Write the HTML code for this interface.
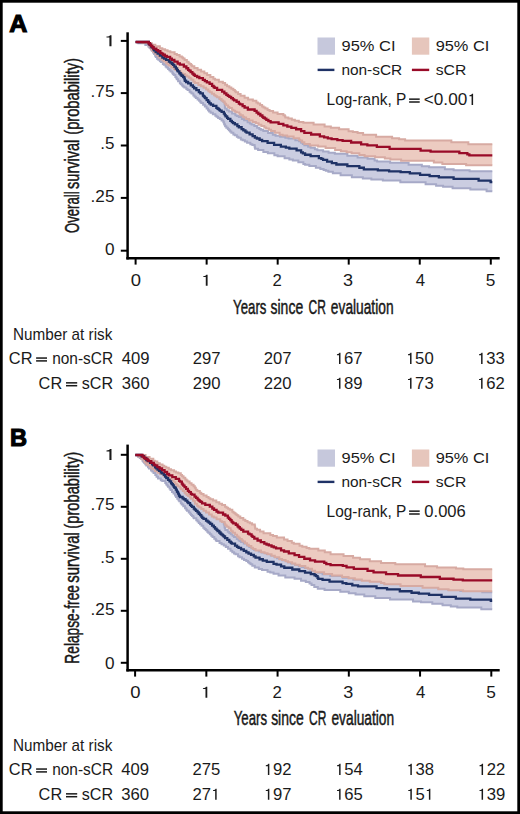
<!DOCTYPE html>
<html><head><meta charset="utf-8"><style>
html,body{margin:0;padding:0;background:#fff;overflow:hidden;width:520px;height:814px;}
svg{display:block;}
text{font-family:"Liberation Sans",sans-serif;fill:#1a1a1a;}
.ti{stroke:#111;stroke-width:0.45px;}
</style></head><body>
<svg width="520" height="814" viewBox="0 0 520 814">
<rect width="520" height="814" fill="#fff"/>
<rect x="1.35" y="1.35" width="517.3" height="811.3" fill="none" stroke="#000" stroke-width="2.7"/>
<polygon points="135.60,42.00 148.60,42.00 148.60,43.34 150.10,43.34 150.10,44.81 152.35,44.81 152.35,46.72 154.10,46.72 154.10,48.08 156.10,48.08 156.10,49.49 158.10,49.49 158.10,51.00 159.35,51.00 159.35,52.02 160.85,52.02 160.85,53.43 162.85,53.43 162.85,54.99 164.85,54.99 164.85,56.74 165.85,56.74 165.85,57.65 167.10,57.65 167.10,58.82 168.35,58.82 168.35,59.73 171.10,59.73 171.10,61.50 173.60,61.50 173.60,63.13 175.10,63.13 175.10,63.98 177.85,63.98 177.85,65.96 180.60,65.96 180.60,67.92 182.60,67.92 182.60,69.50 184.60,69.50 184.60,71.04 185.85,71.04 185.85,72.03 186.85,72.03 186.85,72.85 188.60,72.85 188.60,74.28 189.60,74.28 189.60,75.15 190.60,75.15 190.60,76.18 191.60,76.18 191.60,77.27 192.60,77.27 192.60,78.11 193.85,78.11 193.85,79.46 195.35,79.46 195.35,80.79 197.85,80.79 197.85,82.60 200.10,82.60 200.10,84.03 202.35,84.03 202.35,85.59 204.35,85.59 204.35,86.99 206.35,86.99 206.35,88.59 208.10,88.59 208.10,89.94 209.60,89.94 209.60,91.07 212.35,91.07 212.35,93.07 215.10,93.07 215.10,95.06 217.35,95.06 217.35,96.87 219.35,96.87 219.35,98.52 220.85,98.52 220.85,99.70 222.35,99.70 222.35,100.78 223.60,100.78 223.60,101.92 224.60,101.92 224.60,102.81 224.60,103.69 224.85,103.69 224.85,105.41 224.85,107.13 225.10,107.13 225.10,108.41 226.85,108.41 226.85,110.23 228.85,110.23 228.85,111.49 232.10,111.49 232.10,113.44 235.35,113.44 235.35,115.26 236.85,115.26 236.85,116.06 238.85,116.06 238.85,117.11 241.85,117.11 241.85,119.00 244.10,119.00 244.10,120.36 247.60,120.36 247.60,122.34 249.85,122.34 249.85,123.62 251.60,123.62 251.60,124.51 254.35,124.51 254.35,126.06 257.10,126.06 257.10,127.80 259.35,127.80 259.35,128.92 260.85,128.92 260.85,129.82 263.35,129.82 263.35,131.02 268.10,131.02 268.10,132.98 272.85,132.98 272.85,134.69 275.60,134.69 275.60,135.63 280.10,135.63 280.10,136.73 285.35,136.73 285.35,137.65 288.60,137.65 288.60,138.52 295.35,138.52 295.35,140.28 299.10,140.28 299.10,141.29 301.10,141.29 301.10,142.76 302.85,142.76 302.85,144.10 304.35,144.10 304.35,145.13 308.10,145.13 308.10,146.80 310.60,146.80 310.60,147.76 314.85,147.76 314.85,149.33 317.35,149.33 317.35,150.27 323.10,150.27 323.10,151.58 328.60,151.58 328.60,152.63 334.85,152.63 334.85,153.76 347.35,153.76 347.35,155.72 357.60,155.72 357.60,157.49 367.60,157.49 367.60,158.65 374.60,158.65 374.60,160.51 377.10,160.51 377.10,161.57 390.10,161.57 390.10,162.84 408.60,162.84 408.60,164.67 421.85,164.67 421.85,166.24 429.10,166.24 429.10,167.16 444.85,167.16 444.85,169.14 453.60,169.14 453.60,170.20 469.60,170.20 469.60,171.31 492.30,171.31 492.30,191.14 486.60,191.14 486.60,189.59 470.35,189.59 470.35,188.21 452.60,188.21 452.60,186.78 443.10,186.78 443.10,185.70 436.10,185.70 436.10,184.14 425.60,184.14 425.60,182.34 400.35,182.34 400.35,180.59 382.85,180.59 382.85,179.41 371.35,179.41 371.35,178.58 362.85,178.58 362.85,177.17 351.85,177.17 351.85,175.18 340.60,175.18 340.60,173.19 332.85,173.19 332.85,171.65 328.35,171.65 328.35,170.80 325.85,170.80 325.85,169.99 323.60,169.99 323.60,168.90 320.35,168.90 320.35,167.69 315.85,167.69 315.85,165.97 309.35,165.97 309.35,164.85 305.10,164.85 305.10,164.04 303.35,164.04 303.35,162.14 298.35,162.14 298.35,160.45 292.85,160.45 292.85,159.42 289.35,159.42 289.35,158.18 284.60,158.18 284.60,156.27 277.60,156.27 277.60,155.27 274.35,155.27 274.35,153.32 267.85,153.32 267.85,151.95 263.35,151.95 263.35,150.00 258.10,150.00 258.10,148.63 255.10,148.63 255.10,147.49 254.85,147.49 254.85,146.44 254.60,146.44 254.60,145.09 252.35,145.09 252.35,144.22 250.35,144.22 250.35,142.66 247.10,142.66 247.10,141.45 244.85,141.45 244.85,140.31 242.60,140.31 242.60,139.47 240.85,139.47 240.85,137.83 238.35,137.83 238.35,136.82 236.85,136.82 236.85,135.36 234.85,135.36 234.85,134.44 233.35,134.44 233.35,132.71 231.35,132.71 231.35,131.45 230.10,131.45 230.10,130.13 228.85,130.13 228.85,129.07 227.85,129.07 227.85,127.64 226.35,127.64 226.35,126.33 225.10,126.33 225.10,124.54 224.35,124.54 224.35,123.71 224.10,123.71 224.10,122.31 223.35,122.31 223.35,120.53 221.60,120.53 221.60,119.12 219.85,119.12 219.85,117.88 218.10,117.88 218.10,116.80 216.60,116.80 216.60,115.87 215.35,115.87 215.35,114.26 212.85,114.26 212.85,112.63 210.60,112.63 210.60,111.39 209.10,111.39 209.10,110.17 208.10,110.17 208.10,108.57 206.60,108.57 206.60,106.60 204.85,106.60 204.85,104.64 203.10,104.64 203.10,102.97 201.35,102.97 201.35,102.13 200.35,102.13 200.35,100.87 199.10,100.87 199.10,99.50 197.60,99.50 197.60,97.98 195.85,97.98 195.85,96.68 194.60,96.68 194.60,95.40 193.35,95.40 193.35,93.62 191.60,93.62 191.60,92.61 190.60,92.61 190.60,91.75 189.60,91.75 189.60,90.12 187.60,90.12 187.60,89.12 186.35,89.12 186.35,87.57 184.35,87.57 184.35,86.40 183.10,86.40 183.10,85.44 182.10,85.44 182.10,84.13 180.85,84.13 180.85,83.19 179.85,83.19 179.85,81.26 178.10,81.26 178.10,79.27 176.85,79.27 176.85,78.36 176.35,78.36 176.35,76.95 175.35,76.95 175.35,75.05 174.10,75.05 174.10,74.18 173.10,74.18 173.10,73.36 172.35,73.36 172.35,71.55 170.60,71.55 170.60,70.26 169.35,70.26 169.35,69.06 168.10,69.06 168.10,67.43 166.60,67.43 166.60,66.54 165.60,66.54 165.60,64.76 163.85,64.76 163.85,63.89 162.85,63.89 162.85,62.00 160.85,62.00 160.85,61.01 159.85,61.01 159.85,59.68 158.35,59.68 158.35,58.71 157.10,58.71 157.10,57.11 155.85,57.11 155.85,55.64 155.10,55.64 155.10,54.12 154.10,54.12 154.10,52.49 153.10,52.49 153.10,50.72 151.85,50.72 151.85,49.59 151.10,49.59 151.10,48.34 150.10,48.34 150.10,47.53 149.35,47.53 149.35,46.56 148.35,46.56 148.35,44.96 145.35,44.96 145.35,43.37 138.35,43.37 138.35,42.00 135.60,42.00" fill="#cbcde1"/>
<polyline points="135.60,42.00 148.60,42.00 148.60,43.34 150.10,43.34 150.10,44.81 152.35,44.81 152.35,46.72 154.10,46.72 154.10,48.08 156.10,48.08 156.10,49.49 158.10,49.49 158.10,51.00 159.35,51.00 159.35,52.02 160.85,52.02 160.85,53.43 162.85,53.43 162.85,54.99 164.85,54.99 164.85,56.74 165.85,56.74 165.85,57.65 167.10,57.65 167.10,58.82 168.35,58.82 168.35,59.73 171.10,59.73 171.10,61.50 173.60,61.50 173.60,63.13 175.10,63.13 175.10,63.98 177.85,63.98 177.85,65.96 180.60,65.96 180.60,67.92 182.60,67.92 182.60,69.50 184.60,69.50 184.60,71.04 185.85,71.04 185.85,72.03 186.85,72.03 186.85,72.85 188.60,72.85 188.60,74.28 189.60,74.28 189.60,75.15 190.60,75.15 190.60,76.18 191.60,76.18 191.60,77.27 192.60,77.27 192.60,78.11 193.85,78.11 193.85,79.46 195.35,79.46 195.35,80.79 197.85,80.79 197.85,82.60 200.10,82.60 200.10,84.03 202.35,84.03 202.35,85.59 204.35,85.59 204.35,86.99 206.35,86.99 206.35,88.59 208.10,88.59 208.10,89.94 209.60,89.94 209.60,91.07 212.35,91.07 212.35,93.07 215.10,93.07 215.10,95.06 217.35,95.06 217.35,96.87 219.35,96.87 219.35,98.52 220.85,98.52 220.85,99.70 222.35,99.70 222.35,100.78 223.60,100.78 223.60,101.92 224.60,101.92 224.60,102.81 224.60,103.69 224.85,103.69 224.85,105.41 224.85,107.13 225.10,107.13 225.10,108.41 226.85,108.41 226.85,110.23 228.85,110.23 228.85,111.49 232.10,111.49 232.10,113.44 235.35,113.44 235.35,115.26 236.85,115.26 236.85,116.06 238.85,116.06 238.85,117.11 241.85,117.11 241.85,119.00 244.10,119.00 244.10,120.36 247.60,120.36 247.60,122.34 249.85,122.34 249.85,123.62 251.60,123.62 251.60,124.51 254.35,124.51 254.35,126.06 257.10,126.06 257.10,127.80 259.35,127.80 259.35,128.92 260.85,128.92 260.85,129.82 263.35,129.82 263.35,131.02 268.10,131.02 268.10,132.98 272.85,132.98 272.85,134.69 275.60,134.69 275.60,135.63 280.10,135.63 280.10,136.73 285.35,136.73 285.35,137.65 288.60,137.65 288.60,138.52 295.35,138.52 295.35,140.28 299.10,140.28 299.10,141.29 301.10,141.29 301.10,142.76 302.85,142.76 302.85,144.10 304.35,144.10 304.35,145.13 308.10,145.13 308.10,146.80 310.60,146.80 310.60,147.76 314.85,147.76 314.85,149.33 317.35,149.33 317.35,150.27 323.10,150.27 323.10,151.58 328.60,151.58 328.60,152.63 334.85,152.63 334.85,153.76 347.35,153.76 347.35,155.72 357.60,155.72 357.60,157.49 367.60,157.49 367.60,158.65 374.60,158.65 374.60,160.51 377.10,160.51 377.10,161.57 390.10,161.57 390.10,162.84 408.60,162.84 408.60,164.67 421.85,164.67 421.85,166.24 429.10,166.24 429.10,167.16 444.85,167.16 444.85,169.14 453.60,169.14 453.60,170.20 469.60,170.20 469.60,171.31 492.30,171.31" fill="none" stroke="#a6a9c7" stroke-width="2"/>
<polyline points="135.60,42.00 138.35,42.00 138.35,43.37 145.35,43.37 145.35,44.96 148.35,44.96 148.35,46.56 149.35,46.56 149.35,47.53 150.10,47.53 150.10,48.34 151.10,48.34 151.10,49.59 151.85,49.59 151.85,50.72 153.10,50.72 153.10,52.49 154.10,52.49 154.10,54.12 155.10,54.12 155.10,55.64 155.85,55.64 155.85,57.11 157.10,57.11 157.10,58.71 158.35,58.71 158.35,59.68 159.85,59.68 159.85,61.01 160.85,61.01 160.85,62.00 162.85,62.00 162.85,63.89 163.85,63.89 163.85,64.76 165.60,64.76 165.60,66.54 166.60,66.54 166.60,67.43 168.10,67.43 168.10,69.06 169.35,69.06 169.35,70.26 170.60,70.26 170.60,71.55 172.35,71.55 172.35,73.36 173.10,73.36 173.10,74.18 174.10,74.18 174.10,75.05 175.35,75.05 175.35,76.95 176.35,76.95 176.35,78.36 176.85,78.36 176.85,79.27 178.10,79.27 178.10,81.26 179.85,81.26 179.85,83.19 180.85,83.19 180.85,84.13 182.10,84.13 182.10,85.44 183.10,85.44 183.10,86.40 184.35,86.40 184.35,87.57 186.35,87.57 186.35,89.12 187.60,89.12 187.60,90.12 189.60,90.12 189.60,91.75 190.60,91.75 190.60,92.61 191.60,92.61 191.60,93.62 193.35,93.62 193.35,95.40 194.60,95.40 194.60,96.68 195.85,96.68 195.85,97.98 197.60,97.98 197.60,99.50 199.10,99.50 199.10,100.87 200.35,100.87 200.35,102.13 201.35,102.13 201.35,102.97 203.10,102.97 203.10,104.64 204.85,104.64 204.85,106.60 206.60,106.60 206.60,108.57 208.10,108.57 208.10,110.17 209.10,110.17 209.10,111.39 210.60,111.39 210.60,112.63 212.85,112.63 212.85,114.26 215.35,114.26 215.35,115.87 216.60,115.87 216.60,116.80 218.10,116.80 218.10,117.88 219.85,117.88 219.85,119.12 221.60,119.12 221.60,120.53 223.35,120.53 223.35,122.31 224.10,122.31 224.10,123.71 224.35,123.71 224.35,124.54 225.10,124.54 225.10,126.33 226.35,126.33 226.35,127.64 227.85,127.64 227.85,129.07 228.85,129.07 228.85,130.13 230.10,130.13 230.10,131.45 231.35,131.45 231.35,132.71 233.35,132.71 233.35,134.44 234.85,134.44 234.85,135.36 236.85,135.36 236.85,136.82 238.35,136.82 238.35,137.83 240.85,137.83 240.85,139.47 242.60,139.47 242.60,140.31 244.85,140.31 244.85,141.45 247.10,141.45 247.10,142.66 250.35,142.66 250.35,144.22 252.35,144.22 252.35,145.09 254.60,145.09 254.60,146.44 254.85,146.44 254.85,147.49 255.10,147.49 255.10,148.63 258.10,148.63 258.10,150.00 263.35,150.00 263.35,151.95 267.85,151.95 267.85,153.32 274.35,153.32 274.35,155.27 277.60,155.27 277.60,156.27 284.60,156.27 284.60,158.18 289.35,158.18 289.35,159.42 292.85,159.42 292.85,160.45 298.35,160.45 298.35,162.14 303.35,162.14 303.35,164.04 305.10,164.04 305.10,164.85 309.35,164.85 309.35,165.97 315.85,165.97 315.85,167.69 320.35,167.69 320.35,168.90 323.60,168.90 323.60,169.99 325.85,169.99 325.85,170.80 328.35,170.80 328.35,171.65 332.85,171.65 332.85,173.19 340.60,173.19 340.60,175.18 351.85,175.18 351.85,177.17 362.85,177.17 362.85,178.58 371.35,178.58 371.35,179.41 382.85,179.41 382.85,180.59 400.35,180.59 400.35,182.34 425.60,182.34 425.60,184.14 436.10,184.14 436.10,185.70 443.10,185.70 443.10,186.78 452.60,186.78 452.60,188.21 470.35,188.21 470.35,189.59 486.60,189.59 486.60,191.14 492.30,191.14" fill="none" stroke="#a6a9c7" stroke-width="2"/>
<polygon points="135.60,42.00 148.35,42.00 148.35,43.11 151.60,43.11 151.60,44.73 155.35,44.73 155.35,46.35 159.85,46.35 159.85,48.17 162.35,48.17 162.35,49.20 165.10,49.20 165.10,50.27 167.60,50.27 167.60,51.25 170.35,51.25 170.35,52.32 174.60,52.32 174.60,54.00 176.85,54.00 176.85,54.96 179.60,54.96 179.60,56.39 181.85,56.39 181.85,57.45 183.10,57.45 183.10,58.60 184.60,58.60 184.60,59.92 186.85,59.92 186.85,61.73 188.60,61.73 188.60,63.26 189.60,63.26 189.60,64.07 191.10,64.07 191.10,65.21 192.10,65.21 192.10,66.18 194.35,66.18 194.35,68.03 197.60,68.03 197.60,69.80 201.10,69.80 201.10,71.57 204.35,71.57 204.35,73.36 207.10,73.36 207.10,75.05 210.35,75.05 210.35,76.99 213.35,76.99 213.35,78.74 215.10,78.74 215.10,79.85 218.85,79.85 218.85,81.67 222.85,81.67 222.85,83.06 225.10,83.06 225.10,84.76 227.10,84.76 227.10,86.24 229.35,86.24 229.35,87.55 231.35,87.55 231.35,88.79 233.35,88.79 233.35,90.11 234.85,90.11 234.85,91.28 235.85,91.28 235.85,92.22 238.10,92.22 238.10,94.01 240.60,94.01 240.60,95.77 244.60,95.77 244.60,97.75 248.10,97.75 248.10,99.38 252.85,99.38 252.85,100.84 256.35,100.84 256.35,102.54 257.85,102.54 257.85,103.50 260.10,103.50 260.10,105.11 262.10,105.11 262.10,106.45 263.60,106.45 263.60,107.46 265.35,107.46 265.35,108.50 267.60,108.50 267.60,109.93 269.60,109.93 269.60,111.03 273.10,111.03 273.10,112.38 277.60,112.38 277.60,113.91 283.35,113.91 283.35,115.19 284.85,115.19 284.85,116.14 285.35,116.14 285.35,117.53 288.35,117.53 288.35,118.61 291.85,118.61 291.85,119.70 294.85,119.70 294.85,120.73 298.85,120.73 298.85,121.97 303.35,121.97 303.35,122.86 313.60,122.86 313.60,124.44 324.60,124.44 324.60,126.38 330.85,126.38 330.85,127.65 339.10,127.65 339.10,129.31 348.60,129.31 348.60,131.23 352.85,131.23 352.85,132.09 357.60,132.09 357.60,133.06 363.10,133.06 363.10,134.82 376.10,134.82 376.10,136.63 392.10,136.63 392.10,138.20 399.10,138.20 399.10,139.19 405.10,139.19 405.10,140.48 451.35,140.48 451.35,142.33 468.35,142.33 468.35,144.19 492.30,144.19 492.30,165.26 466.10,165.26 466.10,164.12 442.35,164.12 442.35,162.62 433.85,162.62 433.85,160.64 401.10,160.64 401.10,159.46 390.35,159.46 390.35,158.62 384.85,158.62 384.85,157.36 375.10,157.36 375.10,156.25 364.60,156.25 364.60,154.89 359.35,154.89 359.35,153.33 351.60,153.33 351.60,152.31 346.60,152.31 346.60,151.14 340.85,151.14 340.85,150.03 335.10,150.03 335.10,148.10 325.60,148.10 325.60,146.62 318.10,146.62 318.10,145.40 309.85,145.40 309.85,144.09 304.35,144.09 304.35,142.16 302.10,142.16 302.10,140.51 300.10,140.51 300.10,139.69 299.10,139.69 299.10,138.21 293.60,138.21 293.60,136.56 287.10,136.56 287.10,135.59 282.60,135.59 282.60,134.71 279.60,134.71 279.60,132.78 274.85,132.78 274.85,130.94 271.10,130.94 271.10,129.86 268.85,129.86 268.85,128.49 266.10,128.49 266.10,127.58 264.35,127.58 264.35,126.06 261.35,126.06 261.35,124.74 258.60,124.74 258.60,123.36 255.85,123.36 255.85,122.01 252.60,122.01 252.60,120.57 249.10,120.57 249.10,118.95 246.10,118.95 246.10,117.57 244.10,117.57 244.10,116.66 242.85,116.66 242.85,115.23 240.60,115.23 240.60,114.29 239.35,114.29 239.35,112.60 236.60,112.60 236.60,111.77 235.10,111.77 235.10,110.63 233.35,110.63 233.35,109.72 231.85,109.72 231.85,107.94 229.35,107.94 229.35,107.02 228.10,107.02 228.10,105.62 226.10,105.62 226.10,103.86 224.85,103.86 224.85,102.80 224.60,102.80 224.60,101.46 223.10,101.46 223.10,100.42 221.60,100.42 221.60,99.01 219.60,99.01 219.60,97.16 217.10,97.16 217.10,96.24 215.60,96.24 215.60,95.23 214.10,95.23 214.10,93.67 211.85,93.67 211.85,92.16 209.85,92.16 209.85,91.22 208.35,91.22 208.35,89.60 206.10,89.60 206.10,87.75 203.60,87.75 203.60,86.22 200.85,86.22 200.85,84.90 198.35,84.90 198.35,82.91 194.85,82.91 194.85,81.63 193.35,81.63 193.35,79.65 191.35,79.65 191.35,78.61 190.35,78.61 190.35,77.71 188.85,77.71 188.85,76.50 186.85,76.50 186.85,75.55 185.10,75.55 185.10,73.97 182.35,73.97 182.35,72.97 180.60,72.97 180.60,71.38 178.10,71.38 178.10,69.92 175.60,69.92 175.60,68.94 174.10,68.94 174.10,67.38 171.35,67.38 171.35,65.61 169.10,65.61 169.10,64.50 167.60,64.50 167.60,63.27 166.10,63.27 166.10,61.39 163.85,61.39 163.85,60.32 162.60,60.32 162.60,59.38 161.35,59.38 161.35,57.65 159.35,57.65 159.35,56.37 158.10,56.37 158.10,54.75 156.35,54.75 156.35,53.59 155.10,53.59 155.10,52.00 153.35,52.00 153.35,50.31 152.10,50.31 152.10,49.21 151.35,49.21 151.35,48.08 150.60,48.08 150.60,46.15 149.35,46.15 149.35,44.57 148.10,44.57 148.10,42.93 142.10,42.93 142.10,42.00 135.60,42.00" fill="#eccbc1"/>
<polyline points="135.60,42.00 148.35,42.00 148.35,43.11 151.60,43.11 151.60,44.73 155.35,44.73 155.35,46.35 159.85,46.35 159.85,48.17 162.35,48.17 162.35,49.20 165.10,49.20 165.10,50.27 167.60,50.27 167.60,51.25 170.35,51.25 170.35,52.32 174.60,52.32 174.60,54.00 176.85,54.00 176.85,54.96 179.60,54.96 179.60,56.39 181.85,56.39 181.85,57.45 183.10,57.45 183.10,58.60 184.60,58.60 184.60,59.92 186.85,59.92 186.85,61.73 188.60,61.73 188.60,63.26 189.60,63.26 189.60,64.07 191.10,64.07 191.10,65.21 192.10,65.21 192.10,66.18 194.35,66.18 194.35,68.03 197.60,68.03 197.60,69.80 201.10,69.80 201.10,71.57 204.35,71.57 204.35,73.36 207.10,73.36 207.10,75.05 210.35,75.05 210.35,76.99 213.35,76.99 213.35,78.74 215.10,78.74 215.10,79.85 218.85,79.85 218.85,81.67 222.85,81.67 222.85,83.06 225.10,83.06 225.10,84.76 227.10,84.76 227.10,86.24 229.35,86.24 229.35,87.55 231.35,87.55 231.35,88.79 233.35,88.79 233.35,90.11 234.85,90.11 234.85,91.28 235.85,91.28 235.85,92.22 238.10,92.22 238.10,94.01 240.60,94.01 240.60,95.77 244.60,95.77 244.60,97.75 248.10,97.75 248.10,99.38 252.85,99.38 252.85,100.84 256.35,100.84 256.35,102.54 257.85,102.54 257.85,103.50 260.10,103.50 260.10,105.11 262.10,105.11 262.10,106.45 263.60,106.45 263.60,107.46 265.35,107.46 265.35,108.50 267.60,108.50 267.60,109.93 269.60,109.93 269.60,111.03 273.10,111.03 273.10,112.38 277.60,112.38 277.60,113.91 283.35,113.91 283.35,115.19 284.85,115.19 284.85,116.14 285.35,116.14 285.35,117.53 288.35,117.53 288.35,118.61 291.85,118.61 291.85,119.70 294.85,119.70 294.85,120.73 298.85,120.73 298.85,121.97 303.35,121.97 303.35,122.86 313.60,122.86 313.60,124.44 324.60,124.44 324.60,126.38 330.85,126.38 330.85,127.65 339.10,127.65 339.10,129.31 348.60,129.31 348.60,131.23 352.85,131.23 352.85,132.09 357.60,132.09 357.60,133.06 363.10,133.06 363.10,134.82 376.10,134.82 376.10,136.63 392.10,136.63 392.10,138.20 399.10,138.20 399.10,139.19 405.10,139.19 405.10,140.48 451.35,140.48 451.35,142.33 468.35,142.33 468.35,144.19 492.30,144.19" fill="none" stroke="#d7aaa2" stroke-width="2"/>
<polyline points="135.60,42.00 142.10,42.00 142.10,42.93 148.10,42.93 148.10,44.57 149.35,44.57 149.35,46.15 150.60,46.15 150.60,48.08 151.35,48.08 151.35,49.21 152.10,49.21 152.10,50.31 153.35,50.31 153.35,52.00 155.10,52.00 155.10,53.59 156.35,53.59 156.35,54.75 158.10,54.75 158.10,56.37 159.35,56.37 159.35,57.65 161.35,57.65 161.35,59.38 162.60,59.38 162.60,60.32 163.85,60.32 163.85,61.39 166.10,61.39 166.10,63.27 167.60,63.27 167.60,64.50 169.10,64.50 169.10,65.61 171.35,65.61 171.35,67.38 174.10,67.38 174.10,68.94 175.60,68.94 175.60,69.92 178.10,69.92 178.10,71.38 180.60,71.38 180.60,72.97 182.35,72.97 182.35,73.97 185.10,73.97 185.10,75.55 186.85,75.55 186.85,76.50 188.85,76.50 188.85,77.71 190.35,77.71 190.35,78.61 191.35,78.61 191.35,79.65 193.35,79.65 193.35,81.63 194.85,81.63 194.85,82.91 198.35,82.91 198.35,84.90 200.85,84.90 200.85,86.22 203.60,86.22 203.60,87.75 206.10,87.75 206.10,89.60 208.35,89.60 208.35,91.22 209.85,91.22 209.85,92.16 211.85,92.16 211.85,93.67 214.10,93.67 214.10,95.23 215.60,95.23 215.60,96.24 217.10,96.24 217.10,97.16 219.60,97.16 219.60,99.01 221.60,99.01 221.60,100.42 223.10,100.42 223.10,101.46 224.60,101.46 224.60,102.80 224.85,102.80 224.85,103.86 226.10,103.86 226.10,105.62 228.10,105.62 228.10,107.02 229.35,107.02 229.35,107.94 231.85,107.94 231.85,109.72 233.35,109.72 233.35,110.63 235.10,110.63 235.10,111.77 236.60,111.77 236.60,112.60 239.35,112.60 239.35,114.29 240.60,114.29 240.60,115.23 242.85,115.23 242.85,116.66 244.10,116.66 244.10,117.57 246.10,117.57 246.10,118.95 249.10,118.95 249.10,120.57 252.60,120.57 252.60,122.01 255.85,122.01 255.85,123.36 258.60,123.36 258.60,124.74 261.35,124.74 261.35,126.06 264.35,126.06 264.35,127.58 266.10,127.58 266.10,128.49 268.85,128.49 268.85,129.86 271.10,129.86 271.10,130.94 274.85,130.94 274.85,132.78 279.60,132.78 279.60,134.71 282.60,134.71 282.60,135.59 287.10,135.59 287.10,136.56 293.60,136.56 293.60,138.21 299.10,138.21 299.10,139.69 300.10,139.69 300.10,140.51 302.10,140.51 302.10,142.16 304.35,142.16 304.35,144.09 309.85,144.09 309.85,145.40 318.10,145.40 318.10,146.62 325.60,146.62 325.60,148.10 335.10,148.10 335.10,150.03 340.85,150.03 340.85,151.14 346.60,151.14 346.60,152.31 351.60,152.31 351.60,153.33 359.35,153.33 359.35,154.89 364.60,154.89 364.60,156.25 375.10,156.25 375.10,157.36 384.85,157.36 384.85,158.62 390.35,158.62 390.35,159.46 401.10,159.46 401.10,160.64 433.85,160.64 433.85,162.62 442.35,162.62 442.35,164.12 466.10,164.12 466.10,165.26 492.30,165.26" fill="none" stroke="#d7aaa2" stroke-width="2"/>
<polyline points="135.60,42.00 148.85,42.00 148.85,43.96 149.60,43.96 149.60,44.77 150.85,44.77 150.85,46.46 151.60,46.46 151.60,47.45 153.35,47.45 153.35,49.43 154.10,49.43 154.10,50.25 155.60,50.25 155.60,52.10 157.60,52.10 157.60,53.72 159.85,53.72 159.85,55.55 162.35,55.55 162.35,57.55 164.10,57.55 164.10,58.64 166.10,58.64 166.10,59.84 168.85,59.84 168.85,61.49 170.35,61.49 170.35,62.63 171.85,62.63 171.85,63.75 173.10,63.75 173.10,64.82 174.35,64.82 174.35,66.65 175.85,66.65 175.85,68.50 177.10,68.50 177.10,70.26 177.85,70.26 177.85,71.32 179.35,71.32 179.35,73.23 180.60,73.23 180.60,74.65 181.60,74.65 181.60,75.73 183.10,75.73 183.10,77.07 184.35,77.07 184.35,78.38 184.60,78.38 184.60,79.27 184.85,79.27 184.85,80.75 186.10,80.75 186.10,81.98 188.10,81.98 188.10,83.46 190.85,83.46 190.85,85.38 192.85,85.38 192.85,86.96 194.10,86.96 194.10,88.24 196.35,88.24 196.35,90.08 198.85,90.08 198.85,92.07 200.35,92.07 200.35,93.46 202.85,93.46 202.85,95.39 203.35,95.39 203.35,96.22 204.35,96.22 204.35,97.19 205.10,97.19 205.10,98.19 206.60,98.19 206.60,100.12 208.10,100.12 208.10,101.75 209.35,101.75 209.35,103.41 210.85,103.41 210.85,104.55 213.10,104.55 213.10,105.95 216.35,105.95 216.35,107.81 217.60,107.81 217.60,108.73 218.85,108.73 218.85,109.67 219.85,109.67 219.85,110.53 221.60,110.53 221.60,111.89 223.85,111.89 223.85,113.70 224.85,113.70 224.85,115.16 225.60,115.16 225.60,116.45 227.10,116.45 227.10,117.85 228.10,117.85 228.10,118.86 230.35,118.86 230.35,120.80 231.85,120.80 231.85,122.03 233.10,122.03 233.10,123.11 234.85,123.11 234.85,124.28 237.35,124.28 237.35,126.07 238.85,126.07 238.85,127.25 241.60,127.25 241.60,129.14 243.35,129.14 243.35,130.34 245.35,130.34 245.35,131.67 246.60,131.67 246.60,132.56 249.60,132.56 249.60,134.45 252.60,134.45 252.60,136.21 254.85,136.21 254.85,137.58 256.85,137.58 256.85,138.51 259.60,138.51 259.60,139.90 262.10,139.90 262.10,141.16 267.60,141.16 267.60,142.96 274.10,142.96 274.10,144.88 280.85,144.88 280.85,146.57 285.85,146.57 285.85,147.71 289.35,147.71 289.35,148.56 296.60,148.56 296.60,150.43 301.10,150.43 301.10,152.37 302.85,152.37 302.85,153.36 305.10,153.36 305.10,154.76 310.60,154.76 310.60,156.13 318.85,156.13 318.85,158.11 321.35,158.11 321.35,158.96 323.10,158.96 323.10,159.83 327.10,159.83 327.10,161.64 331.85,161.64 331.85,163.13 336.35,163.13 336.35,164.48 347.35,164.48 347.35,166.22 359.35,166.22 359.35,167.73 363.85,167.73 363.85,169.36 377.85,169.36 377.85,170.47 389.10,170.47 389.10,171.37 400.60,171.37 400.60,172.18 409.85,172.18 409.85,173.38 420.10,173.38 420.10,174.96 429.60,174.96 429.60,176.21 438.85,176.21 438.85,177.43 453.60,177.43 453.60,178.97 478.60,178.97 478.60,180.62 490.60,180.62 490.60,182.13 492.30,182.13" fill="none" stroke="#1f3266" stroke-width="2.3"/>
<polyline points="135.60,42.00 148.60,42.00 148.60,43.23 149.85,43.23 149.85,44.61 151.10,44.61 151.10,45.91 152.35,45.91 152.35,47.25 153.60,47.25 153.60,48.54 156.35,48.54 156.35,50.13 158.10,50.13 158.10,51.24 160.35,51.24 160.35,52.80 161.60,52.80 161.60,53.61 163.10,53.61 163.10,54.77 164.85,54.77 164.85,55.98 166.85,55.98 166.85,56.95 170.10,56.95 170.10,58.64 171.85,58.64 171.85,59.81 174.35,59.81 174.35,61.56 177.60,61.56 177.60,63.51 179.85,63.51 179.85,64.61 183.85,64.61 183.85,66.48 186.35,66.48 186.35,68.25 188.10,68.25 188.10,69.85 189.10,69.85 189.10,70.69 190.60,70.69 190.60,72.03 192.35,72.03 192.35,73.59 193.60,73.59 193.60,74.74 194.85,74.74 194.85,75.81 197.10,75.81 197.10,76.98 199.35,76.98 199.35,78.09 202.85,78.09 202.85,79.84 204.85,79.84 204.85,81.05 206.85,81.05 206.85,82.36 209.60,82.36 209.60,83.93 212.10,83.93 212.10,85.87 213.60,85.87 213.60,87.02 214.60,87.02 214.60,87.88 217.10,87.88 217.10,89.85 222.10,89.85 222.10,91.64 224.35,91.64 224.35,93.39 226.35,93.39 226.35,94.82 227.85,94.82 227.85,95.90 229.35,95.90 229.35,96.89 231.10,96.89 231.10,98.05 232.85,98.05 232.85,99.41 234.10,99.41 234.10,100.28 236.60,100.28 236.60,101.92 238.85,101.92 238.85,103.60 240.10,103.60 240.10,104.41 242.60,104.41 242.60,106.22 244.60,106.22 244.60,107.61 247.85,107.61 247.85,109.52 254.60,109.52 254.60,110.89 256.60,110.89 256.60,112.64 258.35,112.64 258.35,113.99 260.35,113.99 260.35,115.52 262.35,115.52 262.35,116.92 263.35,116.92 263.35,117.75 264.85,117.75 264.85,118.72 266.35,118.72 266.35,119.80 268.35,119.80 268.35,121.09 270.60,121.09 270.60,122.33 278.60,122.33 278.60,123.78 283.35,123.78 283.35,125.37 287.35,125.37 287.35,126.65 291.35,126.65 291.35,127.83 296.10,127.83 296.10,129.25 301.10,129.25 301.10,131.19 304.35,131.19 304.35,132.93 311.10,132.93 311.10,134.51 319.85,134.51 319.85,136.29 324.10,136.29 324.10,137.37 327.85,137.37 327.85,138.29 331.60,138.29 331.60,139.20 337.35,139.20 337.35,140.15 342.60,140.15 342.60,140.96 351.10,140.96 351.10,142.51 361.10,142.51 361.10,144.41 367.35,144.41 367.35,145.35 376.85,145.35 376.85,146.97 389.60,146.97 389.60,148.90 420.60,148.90 420.60,150.62 430.60,150.62 430.60,151.60 459.35,151.60 459.35,153.17 467.35,153.17 467.35,154.28 469.35,154.28 469.35,155.29 492.30,155.29" fill="none" stroke="#990b28" stroke-width="2.3"/>
<polygon points="135.30,455.00 141.55,455.00 141.55,456.00 144.55,456.00 144.55,457.63 147.55,457.63 147.55,459.19 150.30,459.19 150.30,460.56 152.30,460.56 152.30,461.62 155.30,461.62 155.30,463.37 158.05,463.37 158.05,465.14 160.55,465.14 160.55,466.56 162.80,466.56 162.80,467.96 164.30,467.96 164.30,469.05 165.30,469.05 165.30,469.85 166.55,469.85 166.55,471.10 168.30,471.10 168.30,472.60 169.30,472.60 169.30,473.48 171.05,473.48 171.05,475.23 172.05,475.23 172.05,476.31 173.05,476.31 173.05,477.39 173.80,477.39 173.80,478.24 175.80,478.24 175.80,480.24 177.55,480.24 177.55,481.93 179.30,481.93 179.30,483.78 180.80,483.78 180.80,485.32 181.55,485.32 181.55,486.16 182.55,486.16 182.55,487.35 184.05,487.35 184.05,488.75 185.05,488.75 185.05,489.69 187.55,489.69 187.55,491.63 189.05,491.63 189.05,492.87 190.30,492.87 190.30,493.86 192.55,493.86 192.55,495.64 193.80,495.64 193.80,496.59 196.55,496.59 196.55,498.50 198.80,498.50 198.80,499.85 201.30,499.85 201.30,501.31 203.30,501.31 203.30,502.52 205.55,502.52 205.55,503.90 207.30,503.90 207.30,504.93 208.80,504.93 208.80,505.77 211.55,505.77 211.55,507.61 213.05,507.61 213.05,508.69 215.55,508.69 215.55,510.43 217.30,510.43 217.30,511.48 220.05,511.48 220.05,513.44 222.05,513.44 222.05,515.31 222.55,515.31 222.55,517.02 222.80,517.02 222.80,518.73 223.05,518.73 223.05,520.23 223.55,520.23 223.55,521.91 223.80,521.91 223.80,522.85 223.80,523.80 224.30,523.80 224.30,525.17 224.55,525.17 224.55,526.96 224.80,526.96 224.80,528.01 225.30,528.01 225.30,529.91 227.80,529.91 227.80,531.78 229.30,531.78 229.30,533.07 230.80,533.07 230.80,534.31 232.55,534.31 232.55,535.65 234.05,535.65 234.05,536.91 236.80,536.91 236.80,538.91 238.55,538.91 238.55,540.17 239.55,540.17 239.55,541.00 241.05,541.00 241.05,541.91 243.80,541.91 243.80,543.58 247.05,543.58 247.05,545.57 249.30,545.57 249.30,546.96 251.55,546.96 251.55,548.35 254.05,548.35 254.05,549.81 258.80,549.81 258.80,551.51 262.05,551.51 262.05,552.58 266.80,552.58 266.80,554.11 270.80,554.11 270.80,555.58 274.55,555.58 274.55,557.12 277.05,557.12 277.05,558.14 279.55,558.14 279.55,559.14 282.80,559.14 282.80,560.36 287.80,560.36 287.80,562.27 291.05,562.27 291.05,563.49 295.05,563.49 295.05,565.01 298.80,565.01 298.80,566.17 301.80,566.17 301.80,567.10 304.80,567.10 304.80,567.98 309.80,567.98 309.80,569.75 313.05,569.75 313.05,571.49 315.30,571.49 315.30,572.74 322.55,572.74 322.55,574.36 330.30,574.36 330.30,575.97 342.80,575.97 342.80,577.85 353.30,577.85 353.30,579.80 382.80,579.80 382.80,581.08 398.80,581.08 398.80,583.07 413.05,583.07 413.05,585.02 426.05,585.02 426.05,586.53 438.30,586.53 438.30,588.39 448.30,588.39 448.30,589.78 460.30,589.78 460.30,591.03 482.30,591.03 482.30,592.13 492.20,592.13 492.20,609.14 481.30,609.14 481.30,607.51 457.30,607.51 457.30,606.50 450.80,606.50 450.80,605.29 442.55,605.29 442.55,603.73 432.30,603.73 432.30,602.33 421.05,602.33 421.05,601.51 413.05,601.51 413.05,599.58 390.05,599.58 390.05,598.05 375.30,598.05 375.30,596.26 364.30,596.26 364.30,594.52 355.55,594.52 355.55,593.30 348.80,593.30 348.80,591.73 340.30,591.73 340.30,590.05 324.55,590.05 324.55,588.69 317.80,588.69 317.80,586.99 314.30,586.99 314.30,585.00 311.55,585.00 311.55,583.50 309.55,583.50 309.55,582.07 305.80,582.07 305.80,580.67 301.05,580.67 301.05,578.86 294.55,578.86 294.55,577.51 285.30,577.51 285.30,575.60 278.55,575.60 278.55,573.81 273.55,573.81 273.55,572.51 270.30,572.51 270.30,571.65 267.55,571.65 267.55,570.02 262.05,570.02 262.05,568.98 258.80,568.98 258.80,567.40 254.80,567.40 254.80,565.65 252.30,565.65 252.30,564.20 250.55,564.20 250.55,563.36 249.30,563.36 249.30,562.33 248.05,562.33 248.05,561.10 246.30,561.10 246.30,559.91 244.05,559.91 244.05,558.69 242.05,558.69 242.05,557.23 239.55,557.23 239.55,556.23 238.05,556.23 238.05,554.35 235.55,554.35 235.55,553.44 234.05,553.44 234.05,552.16 232.30,552.16 232.30,550.74 230.55,550.74 230.55,548.80 228.05,548.80 228.05,546.88 225.80,546.88 225.80,545.60 223.80,545.60 223.80,544.28 221.55,544.28 221.55,543.05 219.55,543.05 219.55,541.06 216.55,541.06 216.55,540.15 215.80,540.15 215.80,538.72 214.30,538.72 214.30,537.11 212.55,537.11 212.55,535.79 211.30,535.79 211.30,534.34 209.80,534.34 209.80,532.82 208.30,532.82 208.30,531.67 207.30,531.67 207.30,530.17 205.80,530.17 205.80,528.92 204.55,528.92 204.55,527.75 203.30,527.75 203.30,525.85 201.55,525.85 201.55,524.26 200.05,524.26 200.05,522.97 198.80,522.97 198.80,521.55 197.55,521.55 197.55,520.14 196.30,520.14 196.30,518.23 194.05,518.23 194.05,517.39 193.30,517.39 193.30,515.95 192.05,515.95 192.05,515.09 191.05,515.09 191.05,514.07 190.30,514.07 190.30,512.47 188.80,512.47 188.80,510.68 187.05,510.68 187.05,509.71 186.30,509.71 186.30,508.13 185.05,508.13 185.05,506.18 183.30,506.18 183.30,504.44 181.80,504.44 181.80,503.27 180.80,503.27 180.80,501.32 179.30,501.32 179.30,500.21 178.55,500.21 178.55,498.68 177.30,498.68 177.30,497.04 176.05,497.04 176.05,495.56 175.05,495.56 175.05,493.61 173.55,493.61 173.55,491.88 172.05,491.88 172.05,489.95 170.55,489.95 170.55,488.45 169.55,488.45 169.55,486.63 168.05,486.63 168.05,485.60 167.30,485.60 167.30,484.43 166.30,484.43 166.30,482.92 165.30,482.92 165.30,481.07 162.30,481.07 162.30,480.21 160.80,480.21 160.80,478.56 158.05,478.56 158.05,476.65 156.55,476.65 156.55,475.03 155.30,475.03 155.30,473.11 153.55,473.11 153.55,471.59 152.30,471.59 152.30,470.40 151.05,470.40 151.05,468.45 149.05,468.45 149.05,467.37 148.05,467.37 148.05,465.51 146.30,465.51 146.30,464.29 145.30,464.29 145.30,462.71 144.05,462.71 144.05,461.77 143.30,461.77 143.30,460.74 142.55,460.74 142.55,458.75 141.05,458.75 141.05,457.92 139.80,457.92 139.80,456.95 138.30,456.95 138.30,455.00 135.30,455.00" fill="#cbcde1"/>
<polyline points="135.30,455.00 141.55,455.00 141.55,456.00 144.55,456.00 144.55,457.63 147.55,457.63 147.55,459.19 150.30,459.19 150.30,460.56 152.30,460.56 152.30,461.62 155.30,461.62 155.30,463.37 158.05,463.37 158.05,465.14 160.55,465.14 160.55,466.56 162.80,466.56 162.80,467.96 164.30,467.96 164.30,469.05 165.30,469.05 165.30,469.85 166.55,469.85 166.55,471.10 168.30,471.10 168.30,472.60 169.30,472.60 169.30,473.48 171.05,473.48 171.05,475.23 172.05,475.23 172.05,476.31 173.05,476.31 173.05,477.39 173.80,477.39 173.80,478.24 175.80,478.24 175.80,480.24 177.55,480.24 177.55,481.93 179.30,481.93 179.30,483.78 180.80,483.78 180.80,485.32 181.55,485.32 181.55,486.16 182.55,486.16 182.55,487.35 184.05,487.35 184.05,488.75 185.05,488.75 185.05,489.69 187.55,489.69 187.55,491.63 189.05,491.63 189.05,492.87 190.30,492.87 190.30,493.86 192.55,493.86 192.55,495.64 193.80,495.64 193.80,496.59 196.55,496.59 196.55,498.50 198.80,498.50 198.80,499.85 201.30,499.85 201.30,501.31 203.30,501.31 203.30,502.52 205.55,502.52 205.55,503.90 207.30,503.90 207.30,504.93 208.80,504.93 208.80,505.77 211.55,505.77 211.55,507.61 213.05,507.61 213.05,508.69 215.55,508.69 215.55,510.43 217.30,510.43 217.30,511.48 220.05,511.48 220.05,513.44 222.05,513.44 222.05,515.31 222.55,515.31 222.55,517.02 222.80,517.02 222.80,518.73 223.05,518.73 223.05,520.23 223.55,520.23 223.55,521.91 223.80,521.91 223.80,522.85 223.80,523.80 224.30,523.80 224.30,525.17 224.55,525.17 224.55,526.96 224.80,526.96 224.80,528.01 225.30,528.01 225.30,529.91 227.80,529.91 227.80,531.78 229.30,531.78 229.30,533.07 230.80,533.07 230.80,534.31 232.55,534.31 232.55,535.65 234.05,535.65 234.05,536.91 236.80,536.91 236.80,538.91 238.55,538.91 238.55,540.17 239.55,540.17 239.55,541.00 241.05,541.00 241.05,541.91 243.80,541.91 243.80,543.58 247.05,543.58 247.05,545.57 249.30,545.57 249.30,546.96 251.55,546.96 251.55,548.35 254.05,548.35 254.05,549.81 258.80,549.81 258.80,551.51 262.05,551.51 262.05,552.58 266.80,552.58 266.80,554.11 270.80,554.11 270.80,555.58 274.55,555.58 274.55,557.12 277.05,557.12 277.05,558.14 279.55,558.14 279.55,559.14 282.80,559.14 282.80,560.36 287.80,560.36 287.80,562.27 291.05,562.27 291.05,563.49 295.05,563.49 295.05,565.01 298.80,565.01 298.80,566.17 301.80,566.17 301.80,567.10 304.80,567.10 304.80,567.98 309.80,567.98 309.80,569.75 313.05,569.75 313.05,571.49 315.30,571.49 315.30,572.74 322.55,572.74 322.55,574.36 330.30,574.36 330.30,575.97 342.80,575.97 342.80,577.85 353.30,577.85 353.30,579.80 382.80,579.80 382.80,581.08 398.80,581.08 398.80,583.07 413.05,583.07 413.05,585.02 426.05,585.02 426.05,586.53 438.30,586.53 438.30,588.39 448.30,588.39 448.30,589.78 460.30,589.78 460.30,591.03 482.30,591.03 482.30,592.13 492.20,592.13" fill="none" stroke="#a6a9c7" stroke-width="2"/>
<polyline points="135.30,455.00 138.30,455.00 138.30,456.95 139.80,456.95 139.80,457.92 141.05,457.92 141.05,458.75 142.55,458.75 142.55,460.74 143.30,460.74 143.30,461.77 144.05,461.77 144.05,462.71 145.30,462.71 145.30,464.29 146.30,464.29 146.30,465.51 148.05,465.51 148.05,467.37 149.05,467.37 149.05,468.45 151.05,468.45 151.05,470.40 152.30,470.40 152.30,471.59 153.55,471.59 153.55,473.11 155.30,473.11 155.30,475.03 156.55,475.03 156.55,476.65 158.05,476.65 158.05,478.56 160.80,478.56 160.80,480.21 162.30,480.21 162.30,481.07 165.30,481.07 165.30,482.92 166.30,482.92 166.30,484.43 167.30,484.43 167.30,485.60 168.05,485.60 168.05,486.63 169.55,486.63 169.55,488.45 170.55,488.45 170.55,489.95 172.05,489.95 172.05,491.88 173.55,491.88 173.55,493.61 175.05,493.61 175.05,495.56 176.05,495.56 176.05,497.04 177.30,497.04 177.30,498.68 178.55,498.68 178.55,500.21 179.30,500.21 179.30,501.32 180.80,501.32 180.80,503.27 181.80,503.27 181.80,504.44 183.30,504.44 183.30,506.18 185.05,506.18 185.05,508.13 186.30,508.13 186.30,509.71 187.05,509.71 187.05,510.68 188.80,510.68 188.80,512.47 190.30,512.47 190.30,514.07 191.05,514.07 191.05,515.09 192.05,515.09 192.05,515.95 193.30,515.95 193.30,517.39 194.05,517.39 194.05,518.23 196.30,518.23 196.30,520.14 197.55,520.14 197.55,521.55 198.80,521.55 198.80,522.97 200.05,522.97 200.05,524.26 201.55,524.26 201.55,525.85 203.30,525.85 203.30,527.75 204.55,527.75 204.55,528.92 205.80,528.92 205.80,530.17 207.30,530.17 207.30,531.67 208.30,531.67 208.30,532.82 209.80,532.82 209.80,534.34 211.30,534.34 211.30,535.79 212.55,535.79 212.55,537.11 214.30,537.11 214.30,538.72 215.80,538.72 215.80,540.15 216.55,540.15 216.55,541.06 219.55,541.06 219.55,543.05 221.55,543.05 221.55,544.28 223.80,544.28 223.80,545.60 225.80,545.60 225.80,546.88 228.05,546.88 228.05,548.80 230.55,548.80 230.55,550.74 232.30,550.74 232.30,552.16 234.05,552.16 234.05,553.44 235.55,553.44 235.55,554.35 238.05,554.35 238.05,556.23 239.55,556.23 239.55,557.23 242.05,557.23 242.05,558.69 244.05,558.69 244.05,559.91 246.30,559.91 246.30,561.10 248.05,561.10 248.05,562.33 249.30,562.33 249.30,563.36 250.55,563.36 250.55,564.20 252.30,564.20 252.30,565.65 254.80,565.65 254.80,567.40 258.80,567.40 258.80,568.98 262.05,568.98 262.05,570.02 267.55,570.02 267.55,571.65 270.30,571.65 270.30,572.51 273.55,572.51 273.55,573.81 278.55,573.81 278.55,575.60 285.30,575.60 285.30,577.51 294.55,577.51 294.55,578.86 301.05,578.86 301.05,580.67 305.80,580.67 305.80,582.07 309.55,582.07 309.55,583.50 311.55,583.50 311.55,585.00 314.30,585.00 314.30,586.99 317.80,586.99 317.80,588.69 324.55,588.69 324.55,590.05 340.30,590.05 340.30,591.73 348.80,591.73 348.80,593.30 355.55,593.30 355.55,594.52 364.30,594.52 364.30,596.26 375.30,596.26 375.30,598.05 390.05,598.05 390.05,599.58 413.05,599.58 413.05,601.51 421.05,601.51 421.05,602.33 432.30,602.33 432.30,603.73 442.55,603.73 442.55,605.29 450.80,605.29 450.80,606.50 457.30,606.50 457.30,607.51 481.30,607.51 481.30,609.14 492.20,609.14" fill="none" stroke="#a6a9c7" stroke-width="2"/>
<polygon points="135.30,455.00 145.55,455.00 145.55,456.91 149.55,456.91 149.55,458.85 153.30,458.85 153.30,460.72 154.80,460.72 154.80,461.62 157.30,461.62 157.30,463.13 159.80,463.13 159.80,464.44 162.55,464.44 162.55,465.87 164.30,465.87 164.30,466.83 166.30,466.83 166.30,467.86 168.80,467.86 168.80,469.19 171.05,469.19 171.05,470.26 174.05,470.26 174.05,471.61 176.05,471.61 176.05,472.44 178.30,472.44 178.30,473.34 180.80,473.34 180.80,474.99 182.05,474.99 182.05,476.30 183.55,476.30 183.55,477.71 185.30,477.71 185.30,479.39 186.55,479.39 186.55,480.62 187.55,480.62 187.55,481.49 189.55,481.49 189.55,483.23 191.55,483.23 191.55,484.74 193.55,484.74 193.55,486.33 194.80,486.33 194.80,487.87 195.80,487.87 195.80,489.84 197.30,489.84 197.30,491.07 199.80,491.07 199.80,492.79 201.30,492.79 201.30,494.03 203.55,494.03 203.55,495.51 206.55,495.51 206.55,497.11 208.55,497.11 208.55,498.28 210.30,498.28 210.30,499.19 213.05,499.19 213.05,500.56 216.30,500.56 216.30,502.22 219.30,502.22 219.30,503.73 222.05,503.73 222.05,505.06 225.05,505.06 225.05,506.63 226.55,506.63 226.55,507.65 228.05,507.65 228.05,508.67 229.80,508.67 229.80,509.85 232.30,509.85 232.30,511.63 233.55,511.63 233.55,512.67 234.80,512.67 234.80,513.61 235.80,513.61 235.80,514.52 237.05,514.52 237.05,515.37 238.30,515.37 238.30,516.50 240.30,516.50 240.30,517.99 243.30,517.99 243.30,519.77 245.30,519.77 245.30,520.97 247.55,520.97 247.55,522.21 249.80,522.21 249.80,523.36 252.05,523.36 252.05,524.53 254.80,524.53 254.80,526.26 255.05,526.26 255.05,527.72 255.30,527.72 255.30,528.83 257.05,528.83 257.05,529.76 260.05,529.76 260.05,531.50 263.55,531.50 263.55,533.15 270.30,533.15 270.30,534.94 273.05,534.94 273.05,536.03 276.80,536.03 276.80,537.48 284.05,537.48 284.05,539.38 287.55,539.38 287.55,540.89 291.80,540.89 291.80,542.83 293.80,542.83 293.80,543.83 299.55,543.83 299.55,545.80 302.30,545.80 302.30,546.67 306.55,546.67 306.55,547.97 309.30,547.97 309.30,548.79 318.30,548.79 318.30,550.57 324.80,550.57 324.80,552.19 330.55,552.19 330.55,554.16 343.55,554.16 343.55,555.92 353.05,555.92 353.05,557.86 360.05,557.86 360.05,559.31 369.80,559.31 369.80,561.30 381.05,561.30 381.05,562.99 395.30,562.99 395.30,564.21 425.05,564.21 425.05,566.18 437.05,566.18 437.05,567.43 456.05,567.43 456.05,568.46 463.30,568.46 463.30,569.35 492.20,569.35 492.20,591.31 463.05,591.31 463.05,590.19 448.55,590.19 448.55,589.37 438.30,589.37 438.30,587.80 422.55,587.80 422.55,586.04 400.55,586.04 400.55,584.16 384.30,584.16 384.30,582.95 381.05,582.95 381.05,581.80 369.80,581.80 369.80,580.64 361.80,580.64 361.80,579.57 354.80,579.57 354.80,578.30 348.55,578.30 348.55,577.00 342.05,577.00 342.05,575.51 332.05,575.51 332.05,574.07 324.05,574.07 324.05,572.29 315.05,572.29 315.05,570.64 312.05,570.64 312.05,568.65 308.05,568.65 308.05,567.81 305.30,567.81 305.30,566.09 299.80,566.09 299.80,564.75 295.30,564.75 295.30,563.58 292.05,563.58 292.05,562.24 288.05,562.24 288.05,561.37 285.55,561.37 285.55,560.12 282.05,560.12 282.05,559.02 279.30,559.02 279.30,557.17 274.80,557.17 274.80,555.85 271.55,555.85 271.55,554.36 267.55,554.36 267.55,553.34 264.55,553.34 264.55,552.24 261.05,552.24 261.05,550.44 255.55,550.44 255.55,549.08 253.05,549.08 253.05,547.79 251.30,547.79 251.30,546.04 248.80,546.04 248.80,544.77 247.05,544.77 247.05,543.19 245.05,543.19 245.05,541.62 243.05,541.62 243.05,540.51 241.80,540.51 241.80,538.95 239.80,538.95 239.80,537.86 238.55,537.86 238.55,536.42 237.05,536.42 237.05,534.70 235.05,534.70 235.05,532.71 232.80,532.71 232.80,531.30 231.30,531.30 231.30,530.34 230.55,530.34 230.55,528.37 228.55,528.37 228.55,526.77 226.80,526.77 226.80,525.39 225.55,525.39 225.55,524.42 225.05,524.42 225.05,523.44 224.55,523.44 224.55,522.04 222.05,522.04 222.05,521.13 220.30,521.13 220.30,519.22 216.55,519.22 216.55,517.53 213.80,517.53 213.80,516.41 211.80,516.41 211.80,514.58 209.05,514.58 209.05,512.59 206.05,512.59 206.05,510.80 203.55,510.80 203.55,509.05 201.30,509.05 201.30,507.45 199.30,507.45 199.30,506.53 198.05,506.53 198.05,505.65 197.05,505.65 197.05,503.77 195.05,503.77 195.05,502.59 194.80,502.59 194.80,500.68 193.05,500.68 193.05,498.81 191.05,498.81 191.05,497.57 189.80,497.57 189.80,496.12 188.05,496.12 188.05,494.96 186.80,494.96 186.80,493.76 185.55,493.76 185.55,492.77 184.55,492.77 184.55,490.96 182.80,490.96 182.80,489.25 181.05,489.25 181.05,488.35 180.30,488.35 180.30,486.40 178.05,486.40 178.05,485.24 176.80,485.24 176.80,483.90 175.30,483.90 175.30,482.22 173.55,482.22 173.55,480.27 170.80,480.27 170.80,478.85 168.55,478.85 168.55,477.91 167.05,477.91 167.05,475.92 163.55,475.92 163.55,474.08 160.05,474.08 160.05,472.75 157.55,472.75 157.55,471.04 155.05,471.04 155.05,469.37 152.55,469.37 152.55,467.72 150.80,467.72 150.80,466.74 149.55,466.74 149.55,465.03 147.55,465.03 147.55,464.12 146.55,464.12 146.55,462.51 145.05,462.51 145.05,461.48 144.30,461.48 144.30,459.48 142.55,459.48 142.55,458.46 141.55,458.46 141.55,456.65 138.80,456.65 138.80,455.00 135.30,455.00" fill="#eccbc1"/>
<polyline points="135.30,455.00 145.55,455.00 145.55,456.91 149.55,456.91 149.55,458.85 153.30,458.85 153.30,460.72 154.80,460.72 154.80,461.62 157.30,461.62 157.30,463.13 159.80,463.13 159.80,464.44 162.55,464.44 162.55,465.87 164.30,465.87 164.30,466.83 166.30,466.83 166.30,467.86 168.80,467.86 168.80,469.19 171.05,469.19 171.05,470.26 174.05,470.26 174.05,471.61 176.05,471.61 176.05,472.44 178.30,472.44 178.30,473.34 180.80,473.34 180.80,474.99 182.05,474.99 182.05,476.30 183.55,476.30 183.55,477.71 185.30,477.71 185.30,479.39 186.55,479.39 186.55,480.62 187.55,480.62 187.55,481.49 189.55,481.49 189.55,483.23 191.55,483.23 191.55,484.74 193.55,484.74 193.55,486.33 194.80,486.33 194.80,487.87 195.80,487.87 195.80,489.84 197.30,489.84 197.30,491.07 199.80,491.07 199.80,492.79 201.30,492.79 201.30,494.03 203.55,494.03 203.55,495.51 206.55,495.51 206.55,497.11 208.55,497.11 208.55,498.28 210.30,498.28 210.30,499.19 213.05,499.19 213.05,500.56 216.30,500.56 216.30,502.22 219.30,502.22 219.30,503.73 222.05,503.73 222.05,505.06 225.05,505.06 225.05,506.63 226.55,506.63 226.55,507.65 228.05,507.65 228.05,508.67 229.80,508.67 229.80,509.85 232.30,509.85 232.30,511.63 233.55,511.63 233.55,512.67 234.80,512.67 234.80,513.61 235.80,513.61 235.80,514.52 237.05,514.52 237.05,515.37 238.30,515.37 238.30,516.50 240.30,516.50 240.30,517.99 243.30,517.99 243.30,519.77 245.30,519.77 245.30,520.97 247.55,520.97 247.55,522.21 249.80,522.21 249.80,523.36 252.05,523.36 252.05,524.53 254.80,524.53 254.80,526.26 255.05,526.26 255.05,527.72 255.30,527.72 255.30,528.83 257.05,528.83 257.05,529.76 260.05,529.76 260.05,531.50 263.55,531.50 263.55,533.15 270.30,533.15 270.30,534.94 273.05,534.94 273.05,536.03 276.80,536.03 276.80,537.48 284.05,537.48 284.05,539.38 287.55,539.38 287.55,540.89 291.80,540.89 291.80,542.83 293.80,542.83 293.80,543.83 299.55,543.83 299.55,545.80 302.30,545.80 302.30,546.67 306.55,546.67 306.55,547.97 309.30,547.97 309.30,548.79 318.30,548.79 318.30,550.57 324.80,550.57 324.80,552.19 330.55,552.19 330.55,554.16 343.55,554.16 343.55,555.92 353.05,555.92 353.05,557.86 360.05,557.86 360.05,559.31 369.80,559.31 369.80,561.30 381.05,561.30 381.05,562.99 395.30,562.99 395.30,564.21 425.05,564.21 425.05,566.18 437.05,566.18 437.05,567.43 456.05,567.43 456.05,568.46 463.30,568.46 463.30,569.35 492.20,569.35" fill="none" stroke="#d7aaa2" stroke-width="2"/>
<polyline points="135.30,455.00 138.80,455.00 138.80,456.65 141.55,456.65 141.55,458.46 142.55,458.46 142.55,459.48 144.30,459.48 144.30,461.48 145.05,461.48 145.05,462.51 146.55,462.51 146.55,464.12 147.55,464.12 147.55,465.03 149.55,465.03 149.55,466.74 150.80,466.74 150.80,467.72 152.55,467.72 152.55,469.37 155.05,469.37 155.05,471.04 157.55,471.04 157.55,472.75 160.05,472.75 160.05,474.08 163.55,474.08 163.55,475.92 167.05,475.92 167.05,477.91 168.55,477.91 168.55,478.85 170.80,478.85 170.80,480.27 173.55,480.27 173.55,482.22 175.30,482.22 175.30,483.90 176.80,483.90 176.80,485.24 178.05,485.24 178.05,486.40 180.30,486.40 180.30,488.35 181.05,488.35 181.05,489.25 182.80,489.25 182.80,490.96 184.55,490.96 184.55,492.77 185.55,492.77 185.55,493.76 186.80,493.76 186.80,494.96 188.05,494.96 188.05,496.12 189.80,496.12 189.80,497.57 191.05,497.57 191.05,498.81 193.05,498.81 193.05,500.68 194.80,500.68 194.80,502.59 195.05,502.59 195.05,503.77 197.05,503.77 197.05,505.65 198.05,505.65 198.05,506.53 199.30,506.53 199.30,507.45 201.30,507.45 201.30,509.05 203.55,509.05 203.55,510.80 206.05,510.80 206.05,512.59 209.05,512.59 209.05,514.58 211.80,514.58 211.80,516.41 213.80,516.41 213.80,517.53 216.55,517.53 216.55,519.22 220.30,519.22 220.30,521.13 222.05,521.13 222.05,522.04 224.55,522.04 224.55,523.44 225.05,523.44 225.05,524.42 225.55,524.42 225.55,525.39 226.80,525.39 226.80,526.77 228.55,526.77 228.55,528.37 230.55,528.37 230.55,530.34 231.30,530.34 231.30,531.30 232.80,531.30 232.80,532.71 235.05,532.71 235.05,534.70 237.05,534.70 237.05,536.42 238.55,536.42 238.55,537.86 239.80,537.86 239.80,538.95 241.80,538.95 241.80,540.51 243.05,540.51 243.05,541.62 245.05,541.62 245.05,543.19 247.05,543.19 247.05,544.77 248.80,544.77 248.80,546.04 251.30,546.04 251.30,547.79 253.05,547.79 253.05,549.08 255.55,549.08 255.55,550.44 261.05,550.44 261.05,552.24 264.55,552.24 264.55,553.34 267.55,553.34 267.55,554.36 271.55,554.36 271.55,555.85 274.80,555.85 274.80,557.17 279.30,557.17 279.30,559.02 282.05,559.02 282.05,560.12 285.55,560.12 285.55,561.37 288.05,561.37 288.05,562.24 292.05,562.24 292.05,563.58 295.30,563.58 295.30,564.75 299.80,564.75 299.80,566.09 305.30,566.09 305.30,567.81 308.05,567.81 308.05,568.65 312.05,568.65 312.05,570.64 315.05,570.64 315.05,572.29 324.05,572.29 324.05,574.07 332.05,574.07 332.05,575.51 342.05,575.51 342.05,577.00 348.55,577.00 348.55,578.30 354.80,578.30 354.80,579.57 361.80,579.57 361.80,580.64 369.80,580.64 369.80,581.80 381.05,581.80 381.05,582.95 384.30,582.95 384.30,584.16 400.55,584.16 400.55,586.04 422.55,586.04 422.55,587.80 438.30,587.80 438.30,589.37 448.55,589.37 448.55,590.19 463.05,590.19 463.05,591.31 492.20,591.31" fill="none" stroke="#d7aaa2" stroke-width="2"/>
<polyline points="135.30,455.00 141.55,455.00 141.55,456.25 144.05,456.25 144.05,458.16 146.30,458.16 146.30,459.98 147.80,459.98 147.80,461.03 150.05,461.03 150.05,462.88 152.05,462.88 152.05,464.44 153.05,464.44 153.05,465.29 155.05,465.29 155.05,467.24 156.30,467.24 156.30,468.34 157.55,468.34 157.55,469.51 159.05,469.51 159.05,470.82 160.80,470.82 160.80,472.33 161.80,472.33 161.80,473.28 163.80,473.28 163.80,474.90 165.05,474.90 165.05,476.70 166.30,476.70 166.30,478.11 168.05,478.11 168.05,479.87 169.55,479.87 169.55,481.42 171.05,481.42 171.05,483.21 171.80,483.21 171.80,484.22 172.80,484.22 172.80,485.45 173.80,485.45 173.80,486.82 174.55,486.82 174.55,487.74 175.80,487.74 175.80,489.71 176.80,489.71 176.80,491.27 177.30,491.27 177.30,492.19 178.05,492.19 178.05,493.69 178.80,493.69 178.80,494.99 179.30,494.99 179.30,496.01 180.05,496.01 180.05,497.01 182.55,497.01 182.55,498.36 183.80,498.36 183.80,499.25 185.55,499.25 185.55,500.72 187.30,500.72 187.30,502.14 188.30,502.14 188.30,503.09 190.05,503.09 190.05,504.94 191.05,504.94 191.05,505.79 192.05,505.79 192.05,506.80 193.80,506.80 193.80,508.58 194.80,508.58 194.80,509.64 196.05,509.64 196.05,510.95 197.55,510.95 197.55,512.42 198.80,512.42 198.80,513.75 200.05,513.75 200.05,515.14 201.30,515.14 201.30,516.54 202.30,516.54 202.30,517.92 203.55,517.92 203.55,518.79 206.05,518.79 206.05,520.57 207.55,520.57 207.55,521.71 208.80,521.71 208.80,522.57 210.30,522.57 210.30,523.86 212.05,523.86 212.05,525.64 213.80,525.64 213.80,527.19 215.05,527.19 215.05,528.54 216.55,528.54 216.55,529.91 217.55,529.91 217.55,530.98 219.30,530.98 219.30,532.52 220.55,532.52 220.55,533.74 221.55,533.74 221.55,534.62 222.80,534.62 222.80,535.57 223.80,535.57 223.80,536.48 225.05,536.48 225.05,538.10 227.30,538.10 227.30,539.96 229.30,539.96 229.30,541.67 230.80,541.67 230.80,542.73 231.80,542.73 231.80,543.71 235.05,543.71 235.05,545.65 237.05,545.65 237.05,546.90 238.55,546.90 238.55,547.90 241.05,547.90 241.05,549.39 243.80,549.39 243.80,550.93 246.30,550.93 246.30,552.38 248.55,552.38 248.55,553.72 251.05,553.72 251.05,554.88 253.80,554.88 253.80,556.28 255.55,556.28 255.55,557.63 259.55,557.63 259.55,559.24 262.80,559.24 262.80,560.58 266.80,560.58 266.80,561.81 273.55,561.81 273.55,563.79 276.55,563.79 276.55,564.72 281.05,564.72 281.05,566.43 284.30,566.43 284.30,567.73 292.30,567.73 292.30,569.50 299.30,569.50 299.30,571.15 305.05,571.15 305.05,572.63 310.80,572.63 310.80,574.16 314.55,574.16 314.55,575.23 316.05,575.23 316.05,576.05 317.55,576.05 317.55,577.75 318.30,577.75 318.30,578.86 322.55,578.86 322.55,579.79 329.55,579.79 329.55,581.57 342.55,581.57 342.55,583.08 346.30,583.08 346.30,583.92 352.30,583.92 352.30,585.34 358.05,585.34 358.05,586.34 376.55,586.34 376.55,588.17 387.05,588.17 387.05,589.30 399.80,589.30 399.80,591.23 411.55,591.23 411.55,592.76 418.80,592.76 418.80,593.66 429.05,593.66 429.05,594.95 441.55,594.95 441.55,596.91 455.80,596.91 455.80,598.55 470.30,598.55 470.30,599.53 490.80,599.53 490.80,600.77 492.20,600.77" fill="none" stroke="#1f3266" stroke-width="2.3"/>
<polyline points="135.30,455.00 142.55,455.00 142.55,456.70 144.05,456.70 144.05,457.74 145.30,457.74 145.30,458.79 147.55,458.79 147.55,460.31 148.80,460.31 148.80,461.18 151.30,461.18 151.30,462.91 153.80,462.91 153.80,464.62 155.05,464.62 155.05,465.47 157.30,465.47 157.30,467.09 159.55,467.09 159.55,468.50 162.05,468.50 162.05,470.06 164.55,470.06 164.55,472.00 167.05,472.00 167.05,473.99 169.05,473.99 169.05,475.28 172.30,475.28 172.30,477.09 175.80,477.09 175.80,478.84 179.05,478.84 179.05,480.80 180.05,480.80 180.05,481.64 181.80,481.64 181.80,483.56 182.55,483.56 182.55,484.63 183.30,484.63 183.30,485.58 184.55,485.58 184.55,487.10 186.05,487.10 186.05,488.91 187.80,488.91 187.80,490.86 189.05,490.86 189.05,492.09 190.80,492.09 190.80,493.89 192.05,493.89 192.05,494.72 194.55,494.72 194.55,496.69 196.05,496.69 196.05,497.84 197.55,497.84 197.55,499.29 198.55,499.29 198.55,500.24 199.55,500.24 199.55,501.09 200.55,501.09 200.55,501.90 202.05,501.90 202.05,503.42 205.30,503.42 205.30,504.89 209.80,504.89 209.80,506.67 212.30,506.67 212.30,508.49 214.05,508.49 214.05,509.80 216.55,509.80 216.55,511.62 218.30,511.62 218.30,512.66 223.05,512.66 223.05,514.52 225.30,514.52 225.30,515.62 227.80,515.62 227.80,517.55 229.05,517.55 229.05,518.81 230.30,518.81 230.30,520.12 231.55,520.12 231.55,521.54 232.30,521.54 232.30,522.41 233.30,522.41 233.30,523.30 235.80,523.30 235.80,524.76 237.55,524.76 237.55,526.41 238.55,526.41 238.55,527.27 239.80,527.27 239.80,528.56 241.30,528.56 241.30,529.80 243.30,529.80 243.30,531.54 248.05,531.54 248.05,533.53 249.55,533.53 249.55,534.43 251.55,534.43 251.55,535.89 252.55,535.89 252.55,536.81 254.30,536.81 254.30,538.55 257.55,538.55 257.55,540.48 260.80,540.48 260.80,542.13 264.30,542.13 264.30,543.63 266.55,543.63 266.55,544.48 268.80,544.48 268.80,545.39 271.55,545.39 271.55,546.48 273.80,546.48 273.80,547.38 276.05,547.38 276.05,548.34 281.05,548.34 281.05,550.29 284.05,550.29 284.05,551.51 288.80,551.51 288.80,553.40 294.55,553.40 294.55,555.11 299.05,555.11 299.05,556.84 304.30,556.84 304.30,558.74 310.05,558.74 310.05,560.37 315.05,560.37 315.05,561.59 324.30,561.59 324.30,562.95 326.30,562.95 326.30,564.22 330.55,564.22 330.55,565.06 342.80,565.06 342.80,565.91 346.55,565.91 346.55,567.39 353.80,567.39 353.80,568.82 367.55,568.82 367.55,570.79 373.55,570.79 373.55,572.33 386.05,572.33 386.05,574.12 398.05,574.12 398.05,575.49 420.80,575.49 420.80,576.99 439.80,576.99 439.80,578.76 453.55,578.76 453.55,579.61 462.80,579.61 462.80,580.43 492.20,580.43" fill="none" stroke="#990b28" stroke-width="2.3"/>
<line x1="127.6" y1="32.3" x2="127.6" y2="259.45" stroke="#000" stroke-width="2.5"/>
<line x1="126.35" y1="258.2" x2="499.7" y2="258.2" stroke="#000" stroke-width="2.5"/>
<line x1="120.8" y1="40.9" x2="127.6" y2="40.9" stroke="#000" stroke-width="2"/>
<line x1="120.8" y1="93.1" x2="127.6" y2="93.1" stroke="#000" stroke-width="2"/>
<line x1="120.8" y1="145.5" x2="127.6" y2="145.5" stroke="#000" stroke-width="2"/>
<line x1="120.8" y1="197.9" x2="127.6" y2="197.9" stroke="#000" stroke-width="2"/>
<line x1="120.8" y1="250.7" x2="127.6" y2="250.7" stroke="#000" stroke-width="2"/>
<text x="103.48" y="46.20" font-size="16.1" textLength="13.12" lengthAdjust="spacingAndGlyphs"> </text><path d="M696 0L696 1409L566 1409C540 1296 450 1236 262 1222L262 1104L515 1104L515 0Z" fill="#1a1a1a" transform="translate(103.48,46.20) scale(0.01152,-0.00786)"/>
<text x="90.60" y="96.50" font-size="16.1" textLength="23.87" lengthAdjust="spacingAndGlyphs">.75</text>
<text x="100.31" y="149.20" font-size="16.1" textLength="14.21" lengthAdjust="spacingAndGlyphs">.5</text>
<text x="90.60" y="201.50" font-size="16.1" textLength="23.87" lengthAdjust="spacingAndGlyphs">.25</text>
<text x="105.00" y="255.40" font-size="16.1" textLength="9.55" lengthAdjust="spacingAndGlyphs">0</text>
<line x1="135.60" y1="258.2" x2="135.60" y2="264.59999999999997" stroke="#000" stroke-width="2"/>
<text x="130.74" y="285.80" font-size="16.1" textLength="10.27" lengthAdjust="spacingAndGlyphs">0</text>
<line x1="206.64" y1="258.2" x2="206.64" y2="264.59999999999997" stroke="#000" stroke-width="2"/>
<text x="200.62" y="285.80" font-size="16.1" textLength="11.42" lengthAdjust="spacingAndGlyphs"> </text><path d="M696 0L696 1409L566 1409C540 1296 450 1236 262 1222L262 1104L515 1104L515 0Z" fill="#1a1a1a" transform="translate(200.62,285.80) scale(0.01002,-0.00786)"/>
<line x1="277.68" y1="258.2" x2="277.68" y2="264.59999999999997" stroke="#000" stroke-width="2"/>
<text x="272.62" y="285.80" font-size="16.1" textLength="9.31" lengthAdjust="spacingAndGlyphs">2</text>
<line x1="348.72" y1="258.2" x2="348.72" y2="264.59999999999997" stroke="#000" stroke-width="2"/>
<text x="343.06" y="285.80" font-size="16.1" textLength="10.03" lengthAdjust="spacingAndGlyphs">3</text>
<line x1="419.76" y1="258.2" x2="419.76" y2="264.59999999999997" stroke="#000" stroke-width="2"/>
<text x="415.74" y="285.80" font-size="16.1" textLength="9.33" lengthAdjust="spacingAndGlyphs">4</text>
<line x1="490.80" y1="258.2" x2="490.80" y2="264.59999999999997" stroke="#000" stroke-width="2"/>
<text x="485.89" y="285.80" font-size="16.1" textLength="9.61" lengthAdjust="spacingAndGlyphs">5</text>
<line x1="127.6" y1="444.6" x2="127.6" y2="671.45" stroke="#000" stroke-width="2.5"/>
<line x1="126.35" y1="670.2" x2="499.7" y2="670.2" stroke="#000" stroke-width="2.5"/>
<line x1="120.8" y1="454.8" x2="127.6" y2="454.8" stroke="#000" stroke-width="2"/>
<line x1="120.8" y1="506.8" x2="127.6" y2="506.8" stroke="#000" stroke-width="2"/>
<line x1="120.8" y1="558.8" x2="127.6" y2="558.8" stroke="#000" stroke-width="2"/>
<line x1="120.8" y1="610.8" x2="127.6" y2="610.8" stroke="#000" stroke-width="2"/>
<line x1="120.8" y1="662.8" x2="127.6" y2="662.8" stroke="#000" stroke-width="2"/>
<text x="103.48" y="460.10" font-size="16.1" textLength="13.12" lengthAdjust="spacingAndGlyphs"> </text><path d="M696 0L696 1409L566 1409C540 1296 450 1236 262 1222L262 1104L515 1104L515 0Z" fill="#1a1a1a" transform="translate(103.48,460.10) scale(0.01152,-0.00786)"/>
<text x="90.60" y="510.40" font-size="16.1" textLength="23.87" lengthAdjust="spacingAndGlyphs">.75</text>
<text x="100.31" y="563.10" font-size="16.1" textLength="14.21" lengthAdjust="spacingAndGlyphs">.5</text>
<text x="90.60" y="615.40" font-size="16.1" textLength="23.87" lengthAdjust="spacingAndGlyphs">.25</text>
<text x="105.00" y="669.30" font-size="16.1" textLength="9.55" lengthAdjust="spacingAndGlyphs">0</text>
<line x1="135.10" y1="670.2" x2="135.10" y2="676.6" stroke="#000" stroke-width="2"/>
<text x="130.24" y="697.80" font-size="16.1" textLength="10.27" lengthAdjust="spacingAndGlyphs">0</text>
<line x1="206.34" y1="670.2" x2="206.34" y2="676.6" stroke="#000" stroke-width="2"/>
<text x="200.32" y="697.80" font-size="16.1" textLength="11.42" lengthAdjust="spacingAndGlyphs"> </text><path d="M696 0L696 1409L566 1409C540 1296 450 1236 262 1222L262 1104L515 1104L515 0Z" fill="#1a1a1a" transform="translate(200.32,697.80) scale(0.01002,-0.00786)"/>
<line x1="277.58" y1="670.2" x2="277.58" y2="676.6" stroke="#000" stroke-width="2"/>
<text x="272.52" y="697.80" font-size="16.1" textLength="9.31" lengthAdjust="spacingAndGlyphs">2</text>
<line x1="348.82" y1="670.2" x2="348.82" y2="676.6" stroke="#000" stroke-width="2"/>
<text x="343.16" y="697.80" font-size="16.1" textLength="10.03" lengthAdjust="spacingAndGlyphs">3</text>
<line x1="420.06" y1="670.2" x2="420.06" y2="676.6" stroke="#000" stroke-width="2"/>
<text x="416.04" y="697.80" font-size="16.1" textLength="9.33" lengthAdjust="spacingAndGlyphs">4</text>
<line x1="491.30" y1="670.2" x2="491.30" y2="676.6" stroke="#000" stroke-width="2"/>
<text x="486.39" y="697.80" font-size="16.1" textLength="9.61" lengthAdjust="spacingAndGlyphs">5</text>
<text x="9.32" y="31.80" font-size="24" font-weight="bold" textLength="18.10" lengthAdjust="spacingAndGlyphs" style="fill:#000;stroke:#000;stroke-width:1.1px">A</text>
<text x="10.03" y="446.00" font-size="24" font-weight="bold" textLength="17.05" lengthAdjust="spacingAndGlyphs" style="fill:#000;stroke:#000;stroke-width:1.1px">B</text>
<text transform="translate(78.6,0) rotate(-90)" x="-232.98" y="0" font-size="19.3" class="ti" textLength="41.59" lengthAdjust="spacingAndGlyphs">Overall</text>
<text transform="translate(78.6,0) rotate(-90)" x="-188.98" y="0" font-size="19.3" class="ti" textLength="49.30" lengthAdjust="spacingAndGlyphs">survival</text>
<text transform="translate(78.6,0) rotate(-90)" x="-134.75" y="0" font-size="19.3" class="ti" textLength="76.69" lengthAdjust="spacingAndGlyphs">(probability)</text>
<text transform="translate(78.8,0) rotate(-90)" x="-663.67" y="0" font-size="19.3" class="ti" textLength="78.60" lengthAdjust="spacingAndGlyphs">Relapse-free</text>
<text transform="translate(78.8,0) rotate(-90)" x="-582.79" y="0" font-size="19.3" class="ti" textLength="50.64" lengthAdjust="spacingAndGlyphs">survival</text>
<text transform="translate(78.8,0) rotate(-90)" x="-528.65" y="0" font-size="19.3" class="ti" textLength="76.79" lengthAdjust="spacingAndGlyphs">(probability)</text>
<text x="233.06" y="313.60" font-size="19.3" class="ti" textLength="33.36" lengthAdjust="spacingAndGlyphs">Years</text>
<text x="270.54" y="313.60" font-size="19.3" class="ti" textLength="32.62" lengthAdjust="spacingAndGlyphs">since</text>
<text x="308.48" y="313.60" font-size="19.3" class="ti" textLength="17.36" lengthAdjust="spacingAndGlyphs">CR</text>
<text x="330.87" y="313.60" font-size="19.3" class="ti" textLength="62.66" lengthAdjust="spacingAndGlyphs">evaluation</text>
<text x="233.66" y="725.40" font-size="19.3" class="ti" textLength="33.36" lengthAdjust="spacingAndGlyphs">Years</text>
<text x="271.14" y="725.40" font-size="19.3" class="ti" textLength="32.62" lengthAdjust="spacingAndGlyphs">since</text>
<text x="309.08" y="725.40" font-size="19.3" class="ti" textLength="17.36" lengthAdjust="spacingAndGlyphs">CR</text>
<text x="331.47" y="725.40" font-size="19.3" class="ti" textLength="62.66" lengthAdjust="spacingAndGlyphs">evaluation</text>
<rect x="317.5" y="37.5" width="17.5" height="17.2" fill="#c6c8dc"/>
<rect x="411.9" y="37.5" width="17.4" height="17.2" fill="#e6c6bc"/>
<line x1="317.6" y1="69.9" x2="334.4" y2="69.9" stroke="#1f3266" stroke-width="2.4"/>
<line x1="411.9" y1="69.9" x2="429.2" y2="69.9" stroke="#990b28" stroke-width="2.4"/>
<text x="341.60" y="51.00" font-size="15.4" textLength="53.88" lengthAdjust="spacingAndGlyphs">95% CI</text>
<text x="435.70" y="51.00" font-size="15.4" textLength="53.62" lengthAdjust="spacingAndGlyphs">95% CI</text>
<text x="341.40" y="74.90" font-size="15.4" textLength="60.84" lengthAdjust="spacingAndGlyphs">non-sCR</text>
<text x="435.74" y="74.90" font-size="15.4" textLength="30.56" lengthAdjust="spacingAndGlyphs">sCR</text>
<text x="326.60" y="104.90" font-size="16.1" textLength="79.71" lengthAdjust="spacingAndGlyphs">Log-rank, P</text>
<rect x="409.10" y="98.40" width="10.60" height="1.5" fill="#1a1a1a"/><rect x="409.10" y="101.25" width="10.60" height="1.5" fill="#1a1a1a"/>
<text x="423.80" y="104.90" font-size="16.1" textLength="53.01" lengthAdjust="spacingAndGlyphs">&lt;0.00 </text><path d="M696 0L696 1409L566 1409C540 1296 450 1236 262 1222L262 1104L515 1104L515 0Z" fill="#1a1a1a" transform="translate(467.26,104.90) scale(0.00839,-0.00786)"/>
<rect x="317.5" y="449.5" width="17.5" height="17.2" fill="#c6c8dc"/>
<rect x="411.9" y="449.5" width="17.4" height="17.2" fill="#e6c6bc"/>
<line x1="317.6" y1="481.9" x2="334.4" y2="481.9" stroke="#1f3266" stroke-width="2.4"/>
<line x1="411.9" y1="481.9" x2="429.2" y2="481.9" stroke="#990b28" stroke-width="2.4"/>
<text x="341.60" y="463.00" font-size="15.4" textLength="53.88" lengthAdjust="spacingAndGlyphs">95% CI</text>
<text x="435.70" y="463.00" font-size="15.4" textLength="53.62" lengthAdjust="spacingAndGlyphs">95% CI</text>
<text x="341.40" y="486.90" font-size="15.4" textLength="60.84" lengthAdjust="spacingAndGlyphs">non-sCR</text>
<text x="435.74" y="486.90" font-size="15.4" textLength="30.56" lengthAdjust="spacingAndGlyphs">sCR</text>
<text x="326.60" y="516.90" font-size="16.1" textLength="79.71" lengthAdjust="spacingAndGlyphs">Log-rank, P</text>
<rect x="409.10" y="510.40" width="10.60" height="1.5" fill="#1a1a1a"/><rect x="409.10" y="513.25" width="10.60" height="1.5" fill="#1a1a1a"/>
<text x="424.33" y="516.90" font-size="16.1" textLength="41.48" lengthAdjust="spacingAndGlyphs">0.006</text>
<text x="13.01" y="339.60" font-size="16.1" textLength="99.32" lengthAdjust="spacingAndGlyphs">Number at risk</text>
<text x="8.84" y="363.80" font-size="16.1" textLength="23.68" lengthAdjust="spacingAndGlyphs">CR</text>
<rect x="36.10" y="357.30" width="10.90" height="1.5" fill="#1a1a1a"/><rect x="36.10" y="360.15" width="10.90" height="1.5" fill="#1a1a1a"/>
<text x="52.14" y="363.80" font-size="16.1" textLength="61.00" lengthAdjust="spacingAndGlyphs">non-sCR</text>
<text x="38.64" y="388.60" font-size="16.1" textLength="23.52" lengthAdjust="spacingAndGlyphs">CR</text>
<rect x="66.00" y="382.10" width="11.20" height="1.5" fill="#1a1a1a"/><rect x="66.00" y="384.95" width="11.20" height="1.5" fill="#1a1a1a"/>
<text x="81.70" y="388.60" font-size="16.1" textLength="31.40" lengthAdjust="spacingAndGlyphs">sCR</text>
<text x="121.70" y="363.90" font-size="16.1" textLength="27.80" lengthAdjust="spacingAndGlyphs">409</text>
<text x="121.70" y="388.70" font-size="16.1" textLength="27.80" lengthAdjust="spacingAndGlyphs">360</text>
<text x="192.74" y="363.90" font-size="16.1" textLength="27.80" lengthAdjust="spacingAndGlyphs">297</text>
<text x="192.74" y="388.70" font-size="16.1" textLength="27.80" lengthAdjust="spacingAndGlyphs">290</text>
<text x="263.78" y="363.90" font-size="16.1" textLength="27.80" lengthAdjust="spacingAndGlyphs">207</text>
<text x="263.78" y="388.70" font-size="16.1" textLength="27.80" lengthAdjust="spacingAndGlyphs">220</text>
<text x="334.82" y="363.90" font-size="16.1" textLength="27.80" lengthAdjust="spacingAndGlyphs"> 67</text><path d="M696 0L696 1409L566 1409C540 1296 450 1236 262 1222L262 1104L515 1104L515 0Z" fill="#1a1a1a" transform="translate(334.82,363.90) scale(0.00814,-0.00786)"/>
<text x="334.82" y="388.70" font-size="16.1" textLength="27.80" lengthAdjust="spacingAndGlyphs"> 89</text><path d="M696 0L696 1409L566 1409C540 1296 450 1236 262 1222L262 1104L515 1104L515 0Z" fill="#1a1a1a" transform="translate(334.82,388.70) scale(0.00814,-0.00786)"/>
<text x="405.86" y="363.90" font-size="16.1" textLength="27.80" lengthAdjust="spacingAndGlyphs"> 50</text><path d="M696 0L696 1409L566 1409C540 1296 450 1236 262 1222L262 1104L515 1104L515 0Z" fill="#1a1a1a" transform="translate(405.86,363.90) scale(0.00814,-0.00786)"/>
<text x="405.86" y="388.70" font-size="16.1" textLength="27.80" lengthAdjust="spacingAndGlyphs"> 73</text><path d="M696 0L696 1409L566 1409C540 1296 450 1236 262 1222L262 1104L515 1104L515 0Z" fill="#1a1a1a" transform="translate(405.86,388.70) scale(0.00814,-0.00786)"/>
<text x="476.90" y="363.90" font-size="16.1" textLength="27.80" lengthAdjust="spacingAndGlyphs"> 33</text><path d="M696 0L696 1409L566 1409C540 1296 450 1236 262 1222L262 1104L515 1104L515 0Z" fill="#1a1a1a" transform="translate(476.90,363.90) scale(0.00814,-0.00786)"/>
<text x="476.90" y="388.70" font-size="16.1" textLength="27.80" lengthAdjust="spacingAndGlyphs"> 62</text><path d="M696 0L696 1409L566 1409C540 1296 450 1236 262 1222L262 1104L515 1104L515 0Z" fill="#1a1a1a" transform="translate(476.90,388.70) scale(0.00814,-0.00786)"/>
<text x="13.01" y="750.60" font-size="16.1" textLength="99.32" lengthAdjust="spacingAndGlyphs">Number at risk</text>
<text x="8.84" y="774.80" font-size="16.1" textLength="23.68" lengthAdjust="spacingAndGlyphs">CR</text>
<rect x="36.10" y="768.30" width="10.90" height="1.5" fill="#1a1a1a"/><rect x="36.10" y="771.15" width="10.90" height="1.5" fill="#1a1a1a"/>
<text x="52.14" y="774.80" font-size="16.1" textLength="61.00" lengthAdjust="spacingAndGlyphs">non-sCR</text>
<text x="38.64" y="799.60" font-size="16.1" textLength="23.52" lengthAdjust="spacingAndGlyphs">CR</text>
<rect x="66.00" y="793.10" width="11.20" height="1.5" fill="#1a1a1a"/><rect x="66.00" y="795.95" width="11.20" height="1.5" fill="#1a1a1a"/>
<text x="81.70" y="799.60" font-size="16.1" textLength="31.40" lengthAdjust="spacingAndGlyphs">sCR</text>
<text x="121.20" y="774.90" font-size="16.1" textLength="27.80" lengthAdjust="spacingAndGlyphs">409</text>
<text x="121.20" y="799.70" font-size="16.1" textLength="27.80" lengthAdjust="spacingAndGlyphs">360</text>
<text x="192.44" y="774.90" font-size="16.1" textLength="27.80" lengthAdjust="spacingAndGlyphs">275</text>
<text x="192.44" y="799.70" font-size="16.1" textLength="27.80" lengthAdjust="spacingAndGlyphs">27 </text><path d="M696 0L696 1409L566 1409C540 1296 450 1236 262 1222L262 1104L515 1104L515 0Z" fill="#1a1a1a" transform="translate(210.98,799.70) scale(0.00814,-0.00786)"/>
<text x="263.68" y="774.90" font-size="16.1" textLength="27.80" lengthAdjust="spacingAndGlyphs"> 92</text><path d="M696 0L696 1409L566 1409C540 1296 450 1236 262 1222L262 1104L515 1104L515 0Z" fill="#1a1a1a" transform="translate(263.68,774.90) scale(0.00814,-0.00786)"/>
<text x="263.68" y="799.70" font-size="16.1" textLength="27.80" lengthAdjust="spacingAndGlyphs"> 97</text><path d="M696 0L696 1409L566 1409C540 1296 450 1236 262 1222L262 1104L515 1104L515 0Z" fill="#1a1a1a" transform="translate(263.68,799.70) scale(0.00814,-0.00786)"/>
<text x="334.92" y="774.90" font-size="16.1" textLength="27.80" lengthAdjust="spacingAndGlyphs"> 54</text><path d="M696 0L696 1409L566 1409C540 1296 450 1236 262 1222L262 1104L515 1104L515 0Z" fill="#1a1a1a" transform="translate(334.92,774.90) scale(0.00814,-0.00786)"/>
<text x="334.92" y="799.70" font-size="16.1" textLength="27.80" lengthAdjust="spacingAndGlyphs"> 65</text><path d="M696 0L696 1409L566 1409C540 1296 450 1236 262 1222L262 1104L515 1104L515 0Z" fill="#1a1a1a" transform="translate(334.92,799.70) scale(0.00814,-0.00786)"/>
<text x="406.16" y="774.90" font-size="16.1" textLength="27.80" lengthAdjust="spacingAndGlyphs"> 38</text><path d="M696 0L696 1409L566 1409C540 1296 450 1236 262 1222L262 1104L515 1104L515 0Z" fill="#1a1a1a" transform="translate(406.16,774.90) scale(0.00814,-0.00786)"/>
<text x="406.16" y="799.70" font-size="16.1" textLength="27.80" lengthAdjust="spacingAndGlyphs"> 5 </text><path d="M696 0L696 1409L566 1409C540 1296 450 1236 262 1222L262 1104L515 1104L515 0Z" fill="#1a1a1a" transform="translate(406.16,799.70) scale(0.00814,-0.00786)"/><path d="M696 0L696 1409L566 1409C540 1296 450 1236 262 1222L262 1104L515 1104L515 0Z" fill="#1a1a1a" transform="translate(424.70,799.70) scale(0.00814,-0.00786)"/>
<text x="477.40" y="774.90" font-size="16.1" textLength="27.80" lengthAdjust="spacingAndGlyphs"> 22</text><path d="M696 0L696 1409L566 1409C540 1296 450 1236 262 1222L262 1104L515 1104L515 0Z" fill="#1a1a1a" transform="translate(477.40,774.90) scale(0.00814,-0.00786)"/>
<text x="477.40" y="799.70" font-size="16.1" textLength="27.80" lengthAdjust="spacingAndGlyphs"> 39</text><path d="M696 0L696 1409L566 1409C540 1296 450 1236 262 1222L262 1104L515 1104L515 0Z" fill="#1a1a1a" transform="translate(477.40,799.70) scale(0.00814,-0.00786)"/>
</svg>
</body></html>
